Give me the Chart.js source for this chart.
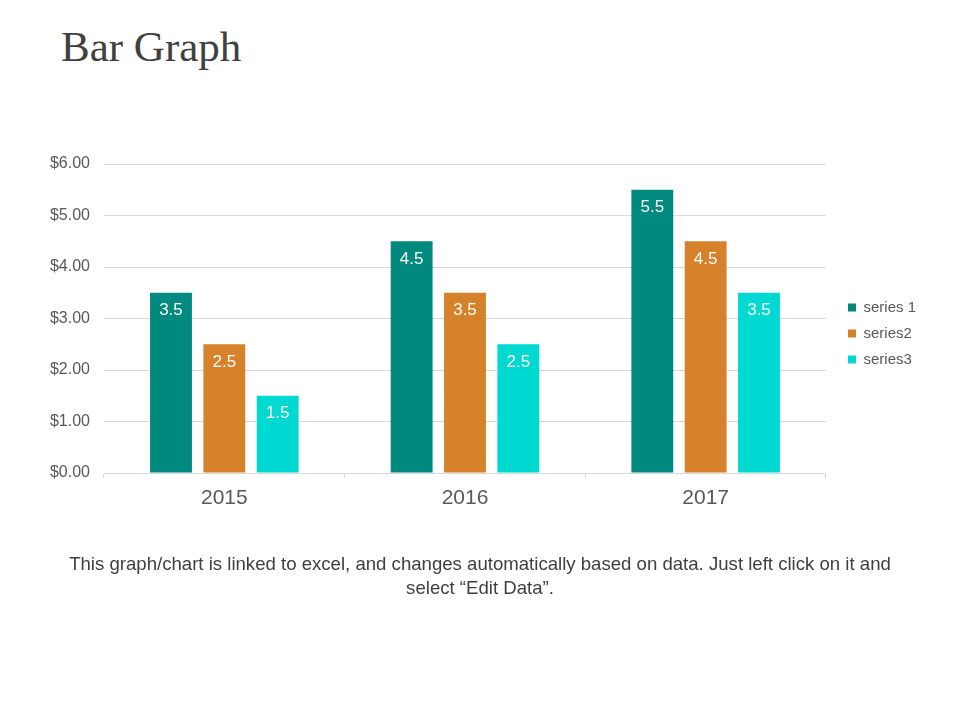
<!DOCTYPE html>
<html>
<head>
<meta charset="utf-8">
<title>Bar Graph</title>
<script src="https://cdn.jsdelivr.net/npm/chart.js@4.4.0/dist/chart.umd.min.js"></script>
<style>
    body {
        margin: 0;
        width: 960px;
        height: 720px;
        background: #ffffff;
        position: relative;
        overflow: hidden;
    }
    #titulo {
        position: absolute;
        left: 61px;
        top: 22px;
        font-family: "Liberation Serif", "DejaVu Serif", serif;
        font-size: 43px;
        color: #404040;
    }
    #grafico {
        position: absolute;
        left: 0;
        top: 0;
    }
    #legenda {
        position: absolute;
        left: 0;
        top: 552px;
        width: 960px;
        text-align: center;
        font-family: "Liberation Sans", Arial, sans-serif;
        font-size: 18.6px;
        line-height: 24px;
        color: #404040;
    }
</style>
</head>
<body>
<div id="titulo">Bar Graph</div>
<canvas id="grafico" width="960" height="720"></canvas>
<div id="legenda">This graph/chart is linked to excel, and changes automatically based on data. Just left click on it and<br>select “Edit Data”.</div>

<script>
const anos = ["2015", "2016", "2017"];
const serie1 = [3.5, 4.5, 5.5];
const serie2 = [2.5, 3.5, 4.5];
const serie3 = [1.5, 2.5, 3.5];
const nomesSeries = ["series 1", "series2", "series3"];
const cores = ["#00897f", "#d5822a", "#00d8d2"];

// rótulos brancos dentro do topo de cada barra
const rotulosBarras = {
    id: "rotulosBarras",
    afterDatasetsDraw(chart) {
        const ctx = chart.ctx;
        ctx.save();
        ctx.fillStyle = "#ffffff";
        ctx.font = "17px 'Liberation Sans', Arial, sans-serif";
        ctx.textAlign = "center";
        ctx.textBaseline = "middle";
        chart.data.datasets.forEach((ds, i) => {
            chart.getDatasetMeta(i).data.forEach((barra, j) => {
                ctx.fillText(ds.data[j].toString(), barra.x, barra.y + 18);
            });
        });
        ctx.restore();
    },
};

// empurra a legenda um pouco para a direita e para cima
const ajusteLegenda = {
    id: "ajusteLegenda",
    afterLayout(chart) {
        const leg = chart.legend;
        leg.left += 11;
        leg.right += 11;
        leg.top -= 5;
        leg.bottom -= 5;
    },
};

const ctx = document.getElementById("grafico").getContext("2d");
new Chart(ctx, {
    type: "bar",
    data: {
        labels: anos,
        datasets: [
            { label: nomesSeries[0], data: serie1, backgroundColor: cores[0] },
            { label: nomesSeries[1], data: serie2, backgroundColor: cores[1] },
            { label: nomesSeries[2], data: serie3, backgroundColor: cores[2] },
        ],
    },
    options: {
        responsive: false,
        animation: false,
        categoryPercentage: 0.665,
        barPercentage: 0.785,
        layout: {
            padding: { top: 164, left: 0, right: 45, bottom: 207 },
        },
        plugins: {
            legend: {
                position: "right",
                labels: {
                    boxWidth: 8,
                    boxHeight: 8,
                    padding: 11,
                    color: "#595959",
                    font: { family: "'Liberation Sans', Arial, sans-serif", size: 15 },
                },
            },
            tooltip: { enabled: false },
        },
        scales: {
            x: {
                afterFit(scale) {
                    scale.height = 40;
                },
                grid: {
                    drawOnChartArea: false,
                    drawTicks: true,
                    tickLength: 5,
                    color: "#d9d9d9",
                },
                border: { color: "#d9d9d9" },
                ticks: {
                    padding: 8,
                    color: "#595959",
                    font: { family: "'Liberation Sans', Arial, sans-serif", size: 21 },
                },
            },
            y: {
                min: 0,
                max: 6,
                afterFit(scale) {
                    scale.width = 104;
                },
                grid: { color: "#d9d9d9", drawTicks: false },
                border: { display: false },
                ticks: {
                    stepSize: 1,
                    padding: 14,
                    color: "#595959",
                    font: { family: "'Liberation Sans', Arial, sans-serif", size: 16 },
                    callback: (v) => "$" + v.toFixed(2),
                },
            },
        },
    },
    plugins: [rotulosBarras, ajusteLegenda],
});
</script>
</body>
</html>
